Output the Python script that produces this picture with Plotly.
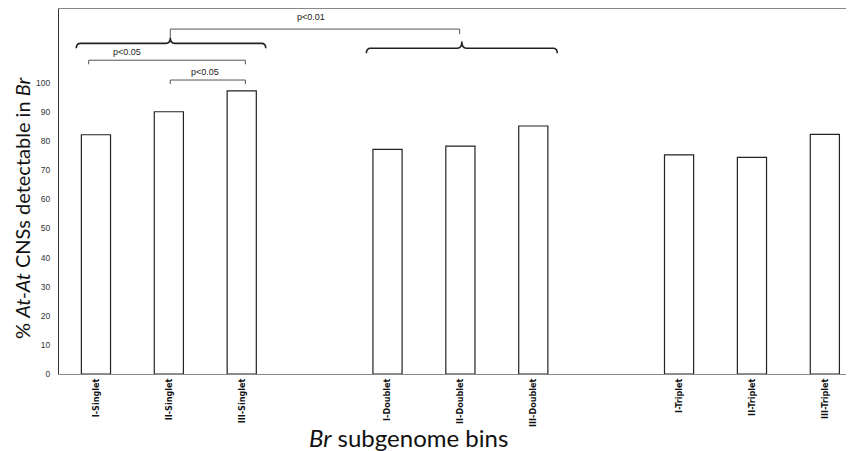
import plotly.graph_objects as go

categories = ["I-Singlet", "II-Singlet", "III-Singlet",
              "I-Doublet", "II-Doublet", "III-Doublet",
              "I-Triplet", "II-Triplet", "III-Triplet"]
values = [82.2, 90.1, 97.3, 77.2, 78.3, 85.2, 75.3, 74.4, 82.3]
axis_order = ["I-Singlet", "II-Singlet", "III-Singlet", " ",
              "I-Doublet", "II-Doublet", "III-Doublet", "  ",
              "I-Triplet", "II-Triplet", "III-Triplet"]
y_ticks = [0, 10, 20, 30, 40, 50, 60, 70, 80, 90, 100]
p_labels = ["p&lt;0.05", "p&lt;0.05", "p&lt;0.01"]

fig = go.Figure()
fig.add_trace(go.Bar(
    x=categories, y=values, width=0.4,
    marker=dict(color="white", line=dict(color="#222", width=1.2)),
    showlegend=False, hoverinfo="skip"))

def idx(c):
    return axis_order.index(c)

shapes = []
gray = dict(color="#555", width=1)
# bracket II-Singlet vs III-Singlet
x1, x2 = idx("II-Singlet") + 0.02, idx("III-Singlet") + 0.05
shapes.append(dict(type="path", xref="x", yref="y",
                   path=f"M {x1},99.6 L {x1},101.0 L {x2},101.0 L {x2},99.6",
                   line=gray))
# bracket I-Singlet vs III-Singlet
x1, x2 = idx("I-Singlet") - 0.10, idx("III-Singlet") + 0.05
shapes.append(dict(type="path", xref="x", yref="y",
                   path=f"M {x1},106.4 L {x1},107.8 L {x2},107.8 L {x2},106.4",
                   line=gray))
# bracket singlets vs doublets
x1, x2 = idx("II-Singlet") + 0.02, idx("II-Doublet") - 0.01
shapes.append(dict(type="path", xref="x", yref="y",
                   path=f"M {x1},115.5 L {x1},118.5 L {x2},118.5 L {x2},116.8",
                   line=gray))

def brace(xa, xb, xm, y, d, yp):
    e = 0.06
    return (f"M {xa},{y - d} Q {xa},{y} {xa + e},{y} L {xm - e},{y} "
            f"Q {xm},{y} {xm},{yp} Q {xm},{y} {xm + e},{y} "
            f"L {xb - e},{y} Q {xb},{y} {xb},{y - d}")

dark = dict(color="#222", width=1.6)
shapes.append(dict(type="path", xref="x", yref="y",
                   path=brace(idx("I-Singlet") - 0.27, idx("III-Singlet") + 0.33,
                              idx("II-Singlet") + 0.02, 113.6, 1.7, 115.5),
                   line=dark))
shapes.append(dict(type="path", xref="x", yref="y",
                   path=brace(idx("I-Doublet") - 0.29, idx("III-Doublet") + 0.33,
                              idx("II-Doublet") + 0.02, 111.9, 1.7, 114.2),
                   line=dark))

# the page adds an 8px body margin, so the figure is 8px smaller each way
W, H = 846, 443
L, T, B = 51, 1, 77
PW, PH = W - L, H - T - B

annotations = [
    dict(x=idx("II-Singlet") + 0.5, y=103.7, text=p_labels[0], showarrow=False,
         font=dict(size=9, color="#222", family="Liberation Sans")),
    dict(x=idx("I-Singlet") + 0.42, y=110.5, text=p_labels[1], showarrow=False,
         font=dict(size=9, color="#222", family="Liberation Sans")),
    dict(x=idx("III-Singlet") + 0.95, y=122.7, text=p_labels[2], showarrow=False,
         font=dict(size=9, color="#222", family="Liberation Sans")),
    dict(xref="paper", yref="paper", x=(408 - 59) / PW, y=-(437 - 374) / PH,
         text="<i>Br</i> subgenome bins", showarrow=False, yanchor="middle",
         font=dict(size=24, color="#111", family="Lato")),
    dict(xref="paper", yref="paper", x=-(59 - 22) / PW, xanchor="center",
         y=(374 - 208) / PH, yanchor="middle", textangle=-90,
         text="% <i>At-At</i> CNSs detectable in <i>Br</i>", showarrow=False,
         font=dict(size=20, color="#111", family="Lato")),
]

fig.update_layout(
    width=W, height=H,
    margin=dict(l=L, r=0, t=T, b=B, pad=0),
    paper_bgcolor="white", plot_bgcolor="white",
    shapes=shapes, annotations=annotations,
    xaxis=dict(type="category", categoryorder="array", categoryarray=axis_order,
               range=[-0.507, 10.40], showgrid=False, showline=True,
               linecolor="#888", linewidth=1, mirror=True, ticks="",
               tickangle=-90,
               tickfont=dict(size=9, color="#111", weight="bold",
                             family="Liberation Sans Narrow, DejaVu Sans Condensed"),
               fixedrange=True),
    yaxis=dict(range=[0, 125.4], tickvals=y_ticks, showgrid=False, zeroline=False,
               showline=True, linecolor="#333", linewidth=1, ticks="",
               ticklabelstandoff=6,
               tickfont=dict(size=8.5, color="#333", family="Liberation Sans"),
               fixedrange=True),
    bargap=0.6,
)

fig.write_html("out.html")
